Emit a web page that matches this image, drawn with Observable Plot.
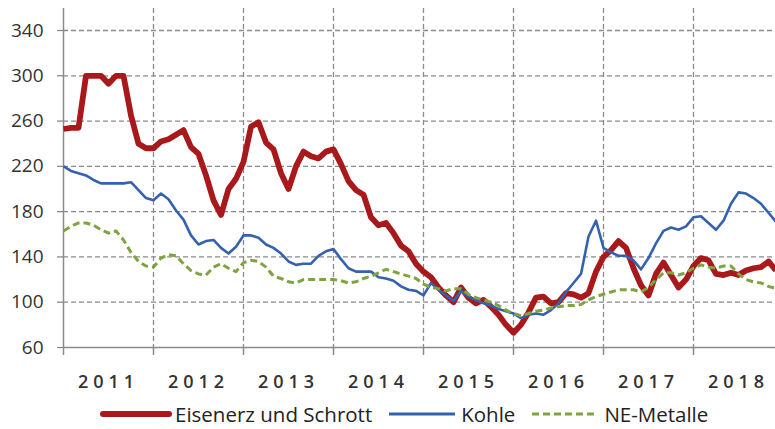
<!DOCTYPE html>
<html><head><meta charset="utf-8">
<script src="https://cdn.jsdelivr.net/npm/d3@7"></script>
<script src="https://cdn.jsdelivr.net/npm/@observablehq/plot@0.6"></script>
<style>
html,body{margin:0;padding:0;background:#fff;}
#chart{width:775px;height:429px;position:relative;overflow:hidden;font-family:"Open Sans",sans-serif;}
#chart svg g[aria-label="text"] text{letter-spacing:5px;}
.legend{position:absolute;top:402px;left:100px;height:24px;display:flex;align-items:center;font-size:20.5px;line-height:24px;color:#222;white-space:nowrap;}
.legend .item{display:flex;align-items:center;margin-right:14px;height:24px;}
.legend .item span{line-height:24px;}
.legend .item svg{margin-right:3px;}
</style></head><body><div id="chart"></div>
<script>
const years = [2011, 2012, 2013, 2014, 2015, 2016, 2017, 2018];
const yTicks = [60, 100, 140, 180, 220, 260, 300, 340];
// monthly values Jan 2011 - Dec 2018
const eisenerz = [
  253,254,254,300,300,300,293,300,300,265,240,236,
  236,242,244,248,252,237,231,212,190,177,200,209,
  224,255,259,241,235,214,200,220,233,229,227,233,
  235,222,207,199,195,175,168,170,161,150,145,134,
  127,122,113,106,100,113,104,99,102,96,89,80,
  73,80,91,104,105,99,100,108,107,104,108,127,
  140,146,154,148,130,115,106,125,135,124,113,120,
  132,139,137,125,124,126,124,128,130,131,136,128
];
const kohle = [
  220,216,214,212,208,205,205,205,205,206,199,192,
  190,196,191,181,173,159,151,154,155,148,143,149,
  159,159,157,151,148,143,136,133,134,134,141,145,
  147,138,130,127,127,127,122,121,119,114,111,110,
  106,117,111,106,101,110,105,102,99,97,94,92,
  90,86,89,90,89,93,99,109,117,125,158,172,
  148,144,141,141,137,129,139,152,163,166,164,167,
  175,176,170,164,172,187,197,196,192,187,179,171
];
const neMetalle = [
  163,167,170,170,168,164,161,163,155,144,136,132,
  131,139,142,141,134,128,125,124,131,134,130,127,
  135,137,136,131,123,121,118,117,120,120,120,120,
  120,119,117,118,121,123,126,129,127,125,123,121,
  116,113,112,110,112,112,107,104,102,100,97,93,
  90,88,90,92,93,95,96,97,97,98,102,105,
  107,109,111,111,111,109,113,120,126,126,124,126,
  130,133,131,130,132,132,125,120,118,117,114,112
];
const seriesNames = ["Eisenerz und Schrott", "Kohle", "NE-Metalle"];
const seriesColors = ["#a8191c", "#3562ae", "#7fa43f"];
const seriesValues = [eisenerz, kohle, neMetalle];
const seriesWidths = [5.8, 2.6, 3];
const seriesDash = [null, null, "7,4"];

const toRows = vals => vals.map((v, i) => ({t: years[0] + i / 12, v}));
const H = 398;
const gridColor = "#8a8a8a";
const plot = Plot.plot({
  width: 775, height: H,
  marginLeft: 63, marginRight: 0, marginTop: 8, marginBottom: H - 347,
  x: {type: "linear", domain: [2011, 2011 + 712 / 90], axis: null},
  y: {domain: [60, 340 + 22 / 1.132], axis: null},
  style: {fontFamily: "'Open Sans', sans-serif", background: "white", color: "#333"},
  marks: [
    Plot.gridY(yTicks.slice(1), {stroke: gridColor, strokeOpacity: 1, strokeWidth: 1.3, strokeDasharray: "5,3"}),
    Plot.gridX(years.slice(1), {stroke: gridColor, strokeOpacity: 1, strokeWidth: 1.3, strokeDasharray: "5,3"}),
    Plot.axisY(yTicks, {tickSize: 6, tickPadding: 14, fontSize: 19, stroke: gridColor, strokeWidth: 1.3, fill: "#333", label: null}),
    Plot.axisX(years, {tickSize: 8, tickFormat: () => "", stroke: "#8a8a8a", strokeWidth: 1.5, label: null}),
    Plot.ruleX([2011], {stroke: "#8a8a8a", strokeWidth: 1.5}),
    Plot.ruleY([60], {stroke: "#8a8a8a", strokeWidth: 1.5}),
    Plot.text(years, {x: d => d + 0.5, y: 60, dy: 35, text: d => String(d), fontSize: 18, fontWeight: 600, fill: "#333"}),
    ...seriesValues.map((vals, k) => Plot.line(toRows(vals), {
      x: "t", y: "v", stroke: seriesColors[k], strokeWidth: seriesWidths[k],
      strokeDasharray: seriesDash[k], strokeLinejoin: "round", strokeLinecap: "butt", clip: true
    }))
  ]
});
const chart = document.getElementById("chart");
chart.appendChild(plot);
const legend = document.createElement("div");
legend.className = "legend";
seriesNames.forEach((name, k) => {
  const item = document.createElement("div");
  item.className = "item";
  const w = 72;
  item.innerHTML = `<svg width="${w}" height="10"><line x1="3" x2="${w - 3}" y1="5" y2="5" stroke="${seriesColors[k]}" stroke-width="${k === 0 ? 6 : 3}" stroke-linecap="${k === 0 ? "round" : "butt"}" ${seriesDash[k] ? `stroke-dasharray="7,4"` : ""}/></svg><span>${name}</span>`;
  legend.appendChild(item);
});
chart.appendChild(legend);
</script>
</body></html>
